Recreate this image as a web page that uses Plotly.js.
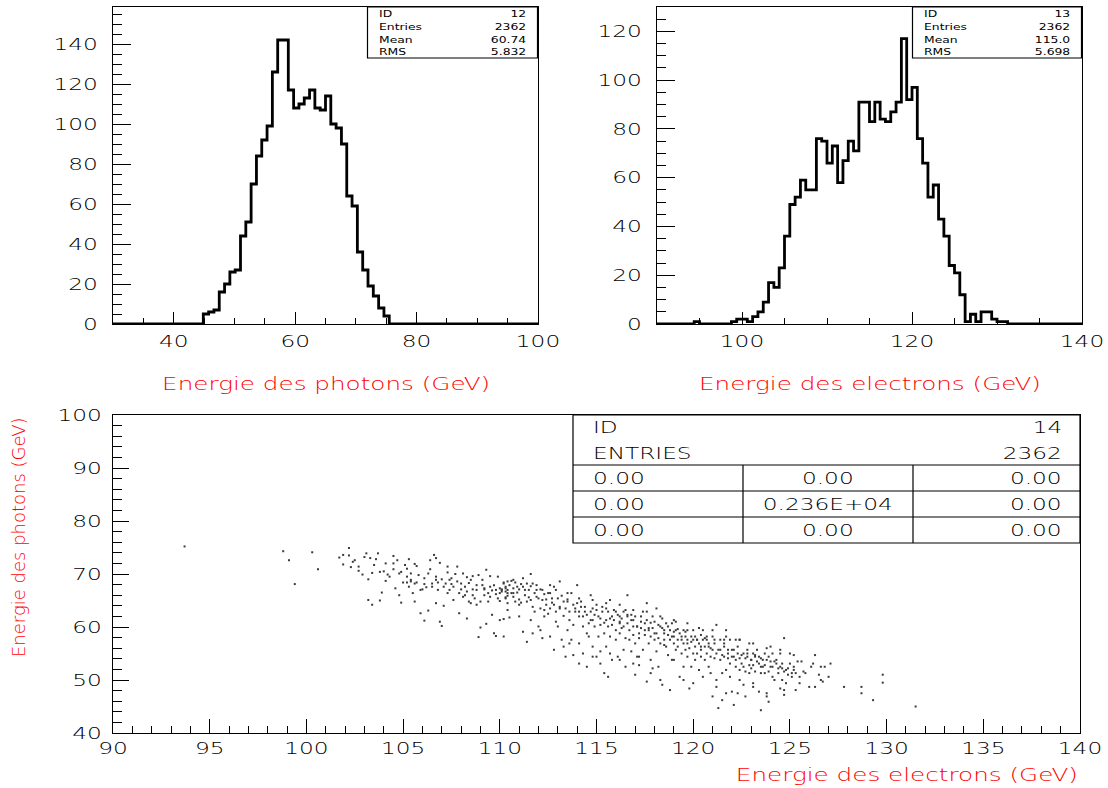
<!DOCTYPE html>
<html><head><meta charset="utf-8">
<script src="https://cdn.plot.ly/plotly-3.0.1.min.js"></script>
<style>html,body{margin:0;padding:0;background:#fff}#chart{width:1108px;height:788px}</style>
</head><body><div id="chart"></div>
<script>
// ---------------- DATA ----------------
// Histogram 12 : photon energy, 80 bins from 30 to 100 GeV
const photonNBins = 80, photonMin = 30, photonMax = 100;
const photonCounts = [
  0,0,0,0,0,0,0,0,0,0,0,0,0,0,0,0,0,
  5,6,7,16,20,26,27,44,51,70,84,92,99,126,142,142,117,108,110,113,117,108,107,114,100,98,90,64,59,36,27,19,14,8,4,
  0,0,0,0,0,0,0,0,0,0,0,0,0,0,0,0,0,0,0,0,0,0,0,0,0,0,0,0
];
// Histogram 13 : electron energy, 80 bins from 90 to 140 GeV
const electronNBins = 80, electronMin = 90, electronMax = 140;
const electronCounts = [
  0,0,0,0,0,0,0,1,0,0,0,0,0,0,
  1,2,2,1,3,5,9,17,15,23,36,49,52,59,55,55,76,75,66,73,58,67,75,71,91,91,83,91,84,83,87,91,117,92,97,76,66,52,57,43,36,24,21,12,1,4,1,5,5,2,1,1,
  0,0,0,0,0,0,0,0,0,0,0,0,0,0
];
const photonStatLabels = ["ID","Entries","Mean","RMS"];
const photonStatValues = ["12","2362","60.74","5.832"];
const electronStatLabels = ["ID","Entries","Mean","RMS"];
const electronStatValues = ["13","2362","115.0","5.698"];
// Scatter 14 : electron energy (x) vs photon energy (y)
const scatterElectronE = [
93.7,98.8,99.1,99.4,100.3,100.6,101.7,101.9,102.2,102.2,102.3,102.4,102.7,102.9,103.0,103.2,103.2,103.4,103.4,103.3,103.6,103.7,103.8,103.9,104.0,104.1,104.2,104.5,104.5,104.6,104.8,104.8,104.9,105.0,105.1,105.2,105.2,105.3,105.4,105.4,105.5,105.6,105.6,105.7,105.7,105.9,106.0,106.1,106.1,106.2,106.3,106.4,106.4,106.5,106.6,106.7,106.7,106.7,106.8,106.9,106.9,107.0,107.1,107.1,107.3,107.3,107.4,107.4,107.5,107.6,107.7,107.8,107.9,107.9,108.0,108.1,108.2,108.3,108.3,108.4,108.4,108.5,108.6,108.6,108.7,108.8,108.9,108.9,109.0,109.1,109.1,109.2,109.2,109.3,109.3,109.4,109.5,109.5,109.6,109.6,109.7,109.8,109.8,109.9,110.0,110.0,110.1,110.2,110.3,110.3,110.4,110.4,
110.1,110.2,110.3,110.4,110.5,110.6,110.7,110.8,110.9,111.0,111.0,111.1,111.2,111.3,111.4,111.4,111.5,111.6,111.6,111.7,111.7,111.8,111.9,111.9,112.0,112.1,112.2,112.2,112.3,112.3,112.4,112.5,112.6,112.6,112.7,112.8,112.9,112.9,113.0,113.0,113.1,113.1,113.3,113.3,113.4,113.4,113.5,113.5,113.6,113.7,113.7,113.8,113.8,113.9,114.0,114.0,114.1,114.1,114.1,114.2,114.3,114.3,114.4,114.5,114.5,114.6,114.6,114.7,114.7,114.8,114.8,114.9,115.0,115.0,115.1,115.1,115.2,115.2,115.3,115.4,115.4,115.4,115.5,115.5,115.6,115.6,115.7,115.7,115.7,115.8,115.8,115.9,116.0,116.0,116.0,116.1,116.2,116.2,116.2,116.3,116.4,116.4,116.4,116.5,116.5,116.6,116.6,116.6,116.7,116.7,116.8,116.8,116.9,116.9,116.9,117.0,117.0,117.1,117.1,117.2,117.2,117.2,117.3,117.3,117.4,117.4,117.5,117.5,117.6,117.6,117.6,117.7,117.7,117.8,117.8,117.9,117.9,117.9,118.0,118.0,118.1,118.1,118.1,118.2,118.2,118.3,118.3,118.4,118.4,118.5,118.5,118.5,118.6,118.6,118.7,118.7,118.8,118.8,118.8,118.9,118.9,119.0,119.0,119.1,119.1,119.1,119.2,119.2,119.3,119.3,119.4,119.4,119.5,119.5,119.5,119.6,119.6,119.7,119.7,119.7,119.8,119.8,119.9,119.9,120.0,120.0,120.0,120.1,120.1,120.2,120.2,120.3,120.3,120.4,120.4,120.4,120.5,120.5,120.6,120.6,120.7,120.7,120.7,120.8,120.8,120.9,120.9,121.0,121.0,121.0,121.1,121.1,121.2,121.2,121.2,121.3,121.4,121.4,121.4,121.5,121.5,121.6,121.6,121.6,121.7,121.7,121.8,121.8,121.9,121.9,121.9,122.0,122.0,122.1,122.1,122.2,122.2,122.2,122.3,122.3,122.4,122.4,122.4,122.5,122.6,122.6,122.6,122.7,122.7,122.8,122.8,122.9,122.9,122.9,123.0,123.0,123.1,123.1,123.1,123.2,123.2,123.3,123.3,123.4,123.4,123.5,123.5,123.5,123.6,123.6,123.7,123.7,123.8,123.8,123.9,123.9,124.0,124.0,124.1,124.1,124.1,124.2,124.3,124.3,124.4,124.5,124.5,124.5,124.6,124.6,124.7,124.7,124.8,124.8,124.9,125.0,125.0,125.1,125.2,125.3,125.3,125.4,125.5,125.6,125.7,125.8,126.0,126.1,126.2,126.3,126.3,126.5,126.6,126.6,126.7,126.8,127.0,127.1,127.8,128.7,128.7,129.3,129.8,129.8,131.5
];
const scatterPhotonE = [
75.2,74.3,72.6,68.1,74.1,70.9,73.1,71.8,74.9,73.5,71.3,72.3,70.6,69.9,73.2,69.0,65.1,64.2,70.2,73.0,72.8,73.9,65.0,66.5,70.5,68.7,69.9,73.4,72.0,67.3,70.1,66.0,64.6,68.4,71.7,68.4,71.0,72.8,68.6,68.9,66.4,71.9,64.8,71.5,68.4,62.6,67.1,68.1,61.2,67.5,63.1,70.9,72.6,67.6,73.6,73.0,64.5,68.9,68.4,72.1,61.0,60.2,67.6,64.0,71.4,70.3,68.9,67.0,68.1,65.1,70.0,71.4,66.4,62.6,67.1,70.1,66.0,61.6,69.4,68.3,64.8,64.5,69.6,67.1,65.4,64.2,58.1,69.8,59.9,68.9,67.9,67.1,66.0,60.6,70.8,64.8,67.6,69.6,62.3,66.9,58.8,58.3,66.2,69.5,61.3,64.9,67.1,61.5,66.7,65.6,63.2,68.6,
67.0,58.2,67.6,65.9,61.8,68.7,66.4,64.8,67.6,64.2,65.2,68.1,59.1,67.0,64.8,57.2,65.6,67.7,70.0,58.8,63.8,62.9,65.7,67.0,60.1,63.5,57.9,65.1,62.0,66.2,64.2,62.5,67.9,66.4,64.6,55.7,61.0,62.9,65.4,60.1,68.6,63.8,56.3,62.1,54.4,63.5,59.4,64.8,61.3,57.6,66.4,60.4,54.7,62.9,64.5,67.9,62.0,56.9,53.1,63.8,60.1,62.0,62.9,58.8,52.5,58.2,60.7,62.9,66.0,61.3,56.3,60.1,64.2,54.4,62.0,58.2,60.4,55.4,62.9,58.8,60.8,51.3,63.5,56.3,60.1,50.6,61.6,65.1,58.2,60.4,53.8,61.3,59.4,62.9,57.6,54.4,60.7,58.8,62.0,59.8,55.7,62.9,60.1,57.9,52.5,62.3,66.0,60.7,57.6,59.4,62.3,55.4,60.1,58.5,61.3,51.0,56.9,60.1,54.4,58.8,52.8,57.9,61.0,59.8,55.7,62.9,59.4,58.5,64.5,49.7,61.3,56.9,59.8,53.8,58.2,62.0,52.2,59.8,57.6,61.0,55.4,58.8,63.5,57.9,52.5,60.1,56.9,61.6,49.1,59.4,56.6,57.6,60.7,56.3,58.5,54.7,59.4,57.6,48.1,53.8,60.7,56.9,58.2,55.7,59.4,61.0,57.6,56.3,58.8,50.6,57.6,55.0,59.4,56.9,52.5,58.2,55.7,59.4,54.4,57.6,48.4,56.0,58.2,52.5,55.0,57.6,59.4,56.3,53.8,57.6,55.0,51.9,56.9,58.5,55.7,54.4,57.6,59.4,56.3,53.8,58.2,55.0,57.6,52.5,56.3,54.4,51.3,46.9,58.2,55.7,54.1,56.9,50.0,60.4,55.0,44.7,57.6,53.8,55.7,51.3,46.2,56.9,54.4,57.6,51.9,59.4,55.7,54.1,57.6,53.1,50.6,47.8,54.4,55.7,45.3,52.5,57.6,53.8,55.0,47.5,51.9,54.1,57.6,53.1,49.1,55.0,52.5,46.9,51.6,54.4,55.7,52.8,56.9,51.3,53.8,52.2,48.7,55.0,52.8,54.4,51.6,55.7,53.5,47.8,54.4,52.5,51.3,44.3,53.8,52.5,55.0,51.3,47.5,53.8,45.9,51.6,56.3,53.5,50.6,55.0,52.5,50.0,53.8,53.1,51.3,48.4,52.5,55.0,50.0,52.2,47.2,57.9,51.9,49.4,51.0,53.1,55.0,50.6,52.5,51.3,48.1,53.5,50.6,53.5,51.6,51.3,48.7,52.5,53.1,48.7,54.7,51.0,52.5,50.0,49.7,52.5,50.6,53.1,48.7,48.7,47.5,46.2,51.0,49.5,45.0
];
// further points, as [electron E, photon E]
const scatterMorePoints = [
[110.0,67.3],[110.1,66.7],[110.2,68.4],[110.3,65.4],[110.4,67.0],[110.4,64.5],[110.5,67.9],[110.6,66.4],[110.7,67.3],[110.7,65.7],
[110.8,68.4],[110.9,66.5],[111.0,67.1],[111.1,64.6],[111.2,67.6],[111.3,66.0],[111.4,68.2],[111.5,67.0],[111.6,65.1],[111.8,66.4],
[111.9,67.9],[112.0,65.4],[112.1,67.1],[112.3,63.2],[112.4,65.2],[112.5,66.4],[112.6,63.5],[112.7,65.4],[112.8,64.2],[112.9,67.0],
[113.1,63.5],[113.2,65.9],[113.3,64.8],[113.5,65.2],[113.6,62.9],[113.8,64.2],[113.9,63.5],[114.1,62.9],[114.2,64.8],[114.4,63.8],
[114.5,62.3],[114.7,61.3],[114.8,63.5],[114.9,62.3],[115.0,63.2],[115.2,61.6],[115.3,63.8],[115.5,61.3],[115.6,62.9],[115.8,62.0],
[115.9,63.2],[116.1,62.3],[116.2,61.0],[116.3,61.6],[116.5,63.2],[116.6,62.0],[116.8,61.3],[117.0,62.0],[117.1,60.1],[117.3,62.0],
[117.5,60.7],[117.7,59.4],[117.8,60.8],[118.0,58.8],[118.2,60.4],[118.4,59.8],[118.5,58.8],[118.7,60.1],[118.9,58.2],[119.0,59.1],
[119.2,59.6],[119.4,58.2],[119.6,59.1],[119.7,56.9],[119.9,57.2],[120.1,58.2],[120.2,57.6],[120.4,56.3],[120.6,57.9],[120.8,56.9],
[120.9,56.0],[121.1,57.6],[121.3,55.7],[121.5,54.7],[121.6,56.3],[121.8,55.0],[122.0,55.7],[122.1,54.4],[122.3,56.3],[122.5,54.7],
[122.7,54.1],[122.8,55.0],[123.0,53.8],[123.2,54.7],[123.4,53.1],[123.5,54.1],[123.7,52.8],[123.9,54.4],[124.0,52.5],[124.2,53.5],
[124.4,52.2],[124.6,53.1],[124.7,51.6],[124.9,52.2],[125.1,51.3],[125.2,51.9],
[111.0,62.0],[111.6,61.3],[112.1,59.4],[112.6,58.2],[113.2,57.6],[113.6,56.9],[114.3,55.0],[114.8,54.4],[115.2,53.1],[115.7,55.0],
[116.2,53.8],[116.9,53.1],[117.2,54.4],[117.8,51.3],[118.3,50.0],[119.0,53.8],[119.5,50.0],[120.0,49.4],[120.5,50.6],[121.2,48.7],
[121.7,47.5],[122.4,50.0],[123.1,49.4],[123.8,46.9],[124.7,48.1],[125.5,49.4],
[110.7,68.9],[111.2,69.2],[111.7,68.2],[112.2,67.0],[112.8,67.6],[113.5,66.4],[114.1,65.4],[114.8,65.1],[115.5,64.5],[116.2,64.2],
[116.9,63.2],[117.6,62.9],[118.3,62.0],[119.0,61.3],[119.7,60.7],[120.3,59.8],[121.0,59.4],[121.7,58.2],[122.4,57.6],[123.1,56.9],
[123.8,56.0],[124.5,55.7],[125.2,54.7],
[101.9,73.6],[102.5,72.6],[102.7,71.4],[103.1,73.9],[103.5,71.7],[103.8,70.4],[104.1,72.0],[104.3,69.5],[104.5,70.9],[104.7,72.6],
[104.9,70.4],[105.2,69.5],[105.3,67.6],[105.4,70.1],[105.6,68.2],[105.8,69.8],[105.9,67.0],[106.1,69.2],[106.3,70.1],[106.5,68.2],
[106.7,69.5],[106.8,67.0],[107.0,69.0],[107.2,68.2],[107.3,66.4],[107.5,69.2],[107.6,67.6],[107.8,68.6],[108.0,68.2],[108.1,65.7],
[108.2,67.6],[108.3,66.7],[108.5,68.9],[108.6,66.0],[108.8,67.9],[108.8,67.0],[109.0,64.8],[109.2,67.3],[109.4,66.4],[109.5,65.7],
[109.7,67.9],[109.8,67.0],[109.9,65.4],[110.0,66.4],[110.2,68.2],[110.3,67.3],[110.4,66.4]
];
const tableHeader = [["ID","14"],["ENTRIES","2362"]];
const tableCells = [["0.00","0.00","0.00"],["0.00","0.236E+04","0.00"],["0.00","0.00","0.00"]];
const photonTitle = "Energie des photons (GeV)";
const electronTitle = "Energie des electrons (GeV)";

// ---------------- LAYOUT HELPERS ----------------
const W = 1108, H = 788;
const px = v => v / W, py = v => 1 - v / H;
const FONT = "DejaVu Sans";
const RED = "#ff0000";
const STRETCH = 1.45;      // the original PAW picture is stretched horizontally

function stepTrace(counts, n, lo, hi, xa, ya) {
  const w = (hi - lo) / n, xs = [], ys = [];
  for (let i = 0; i < n; i++) { xs.push(lo + i * w); ys.push(counts[i]); }
  xs.push(hi); ys.push(counts[n - 1]);
  return {type: 'scatter', mode: 'lines', x: xs, y: ys, xaxis: xa, yaxis: ya,
    line: {shape: 'hv', color: '#000', width: 2.8}, hoverinfo: 'skip', showlegend: false};
}

const allX = scatterElectronE.concat(scatterMorePoints.map(p => p[0]));
const allY = scatterPhotonE.concat(scatterMorePoints.map(p => p[1]));

const traces = [
  stepTrace(photonCounts, photonNBins, photonMin, photonMax, 'x', 'y'),
  stepTrace(electronCounts, electronNBins, electronMin, electronMax, 'x2', 'y2'),
  {type: 'scatter', mode: 'markers', x: allX, y: allY, xaxis: 'x3', yaxis: 'y3',
   marker: {size: 2, color: '#3a3a3a', symbol: 'square', line: {width: 0}}, hoverinfo: 'skip', showlegend: false}
];

function axis(o) {
  return Object.assign({
    showline: true, mirror: true, linecolor: '#000', linewidth: 1,
    ticks: 'inside', tickcolor: '#000', tickwidth: 1,
    showgrid: false, zeroline: false, automargin: false, fixedrange: true,
    tickfont: {family: FONT, size: 16, color: '#000', weight: 200}
  }, o);
}

const layout = {
  width: W, height: H, margin: {l: 0, r: 0, t: 0, b: 0},
  paper_bgcolor: '#fff', plot_bgcolor: '#fff', showlegend: false,
  xaxis: axis({domain: [px(113), px(538)], range: [30, 100], anchor: 'y', dtick: 20, tick0: 0, ticklen: 12,
    minor: {dtick: 5, ticklen: 6, ticks: 'inside', tickcolor: '#000'}, ticklabelstandoff: 3}),
  yaxis: axis({domain: [py(324), py(7)], range: [0, 158.5], anchor: 'x', dtick: 20, tick0: 0, ticklen: 18,
    minor: {dtick: 5, ticklen: 9, ticks: 'inside', tickcolor: '#000'}, ticklabelstandoff: 11}),
  xaxis2: axis({domain: [px(657), px(1082)], range: [90, 140], anchor: 'y2', dtick: 20, tick0: 0, ticklen: 12,
    minor: {dtick: 5, ticklen: 6, ticks: 'inside', tickcolor: '#000'}, ticklabelstandoff: 3}),
  yaxis2: axis({domain: [py(324), py(7)], range: [0, 130], anchor: 'x2', dtick: 20, tick0: 0, ticklen: 18,
    minor: {dtick: 5, ticklen: 9, ticks: 'inside', tickcolor: '#000'}, ticklabelstandoff: 11}),
  xaxis3: axis({domain: [px(113), px(1080)], range: [90, 140], anchor: 'y3', dtick: 5, tick0: 0, ticklen: 14,
    minor: {dtick: 1, ticklen: 7, ticks: 'inside', tickcolor: '#000'}, ticklabelstandoff: 1}),
  yaxis3: axis({domain: [py(733), py(415)], range: [40, 100], anchor: 'x3', dtick: 10, tick0: 0, ticklen: 16,
    minor: {dtick: 2, ticklen: 9, ticks: 'inside', tickcolor: '#000'}, ticklabelstandoff: 7}),
  shapes: [], annotations: []
};

// annotation helper, remembers desired anchor and stretch
const annoMeta = [];
function addText(xp, yp, text, anchor, font, opts) {
  const f = {family: font.family, size: font.size, color: font.color, weight: font.weight || 200};
  layout.annotations.push(Object.assign({xref: 'paper', yref: 'paper', x: px(xp), y: py(yp), text: text,
    showarrow: false, xanchor: anchor, yanchor: 'middle', font: f}, opts || {}));
  annoMeta.push({anchor: anchor, stretch: (opts && opts.textangle) ? 1 : (font.stretch || STRETCH)});
}

const titleFont = {family: FONT, size: 17, color: RED};
addText(325.5, 384, photonTitle, 'center', titleFont);
addText(869.5, 384, electronTitle, 'center', titleFont);
addText(1080, 775, electronTitle, 'right', titleFont);
addText(18, 415, photonTitle, 'center', {family: FONT, size: 18, color: RED}, {textangle: -90, yanchor: 'top'});

// stats boxes
function statBox(x0, x1, labels, values) {
  layout.shapes.push({type: 'rect', xref: 'paper', yref: 'paper', x0: px(x0), x1: px(x1), y0: py(58), y1: py(7),
    line: {color: '#000', width: 1.2}, fillcolor: '#fff'});
  const f = {family: FONT, size: 9.5, color: '#000', stretch: 1.3, weight: 400};
  labels.forEach((lab, i) => {
    addText(x0 + 9, 14 + 12.5 * i, lab, 'left', f);
    addText(x1 - 10, 14 + 12.5 * i, values[i], 'right', f);
  });
}
statBox(367.5, 537.5, photonStatLabels, photonStatValues);
statBox(912.5, 1081.5, electronStatLabels, electronStatValues);

// scatter table
const T = {x0: 573, x1: 1080, y0: 415, y1: 543};
layout.shapes.push({type: 'rect', xref: 'paper', yref: 'paper', x0: px(T.x0), x1: px(T.x1), y0: py(T.y1), y1: py(T.y0),
  line: {color: '#000', width: 1.2}, fillcolor: '#fff'});
[465, 491, 517].forEach(yl => layout.shapes.push({type: 'line', xref: 'paper', yref: 'paper',
  x0: px(T.x0), x1: px(T.x1), y0: py(yl), y1: py(yl), line: {color: '#000', width: 1.2}}));
[743, 913].forEach(xl => layout.shapes.push({type: 'line', xref: 'paper', yref: 'paper',
  x0: px(xl), x1: px(xl), y0: py(465), y1: py(T.y1), line: {color: '#000', width: 1.2}}));
const tf = {family: FONT, size: 16, color: '#000'};
tableHeader.forEach((row, i) => {
  addText(591, 428 + 25 * i, row[0], 'left', tf);
  addText(1064, 428 + 25 * i, row[1], 'right', tf);
});
tableCells.forEach((row, i) => {
  addText(591, 478 + 26 * i, row[0], 'left', tf);
  addText(828, 478 + 26 * i, row[1], 'center', tf);
  addText(1064, 478 + 26 * i, row[2], 'right', tf);
});

// widen a text element horizontally, keeping its anchor point
function widen(el, factor, anchor) {
  if (!el || factor === 1) return;
  const bb = el.getBBox();
  const w = el.getComputedTextLength();
  if (anchor === 'left') { el.setAttribute('text-anchor', 'start'); el.setAttribute('x', bb.x); }
  else if (anchor === 'right') { el.setAttribute('text-anchor', 'end'); el.setAttribute('x', bb.x + bb.width); }
  el.setAttribute('textLength', (w * factor).toFixed(2));
  el.setAttribute('lengthAdjust', 'spacingAndGlyphs');
}

Plotly.newPlot('chart', traces, layout, {staticPlot: true, displayModeBar: false}).then(gd => {
  gd.querySelectorAll('.xtick text, .ytick text, .x2tick text, .y2tick text, .x3tick text, .y3tick text')
    .forEach(t => widen(t, STRETCH, 'keep'));
  gd.querySelectorAll('g.annotation').forEach(g => {
    const i = +g.getAttribute('data-index');
    const t = g.querySelector('text.annotation-text');
    if (annoMeta[i]) widen(t, annoMeta[i].stretch, annoMeta[i].anchor);
  });
});
</script></body></html>
